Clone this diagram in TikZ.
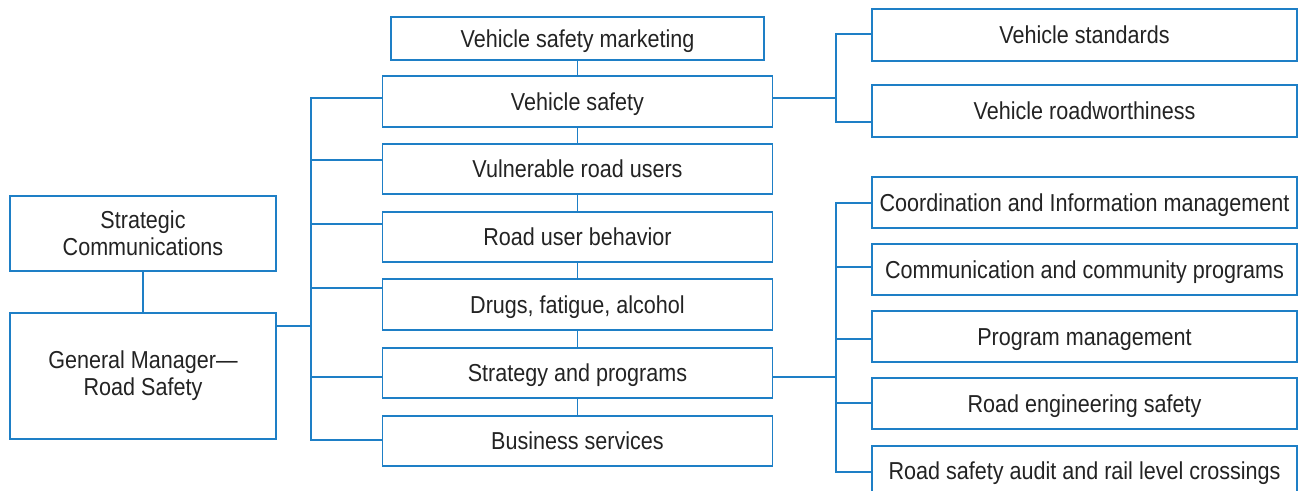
\documentclass[tikz,border=0pt]{standalone}
\usepackage{fontspec}
\setmainfont{Liberation Sans}[FakeStretch=0.88]
\usetikzlibrary{calc}
\definecolor{bl}{HTML}{1E7FC6}
\definecolor{tx}{HTML}{232323}
\tikzset{
  box/.style={draw=bl, line width=1.8pt, rectangle, inner sep=0pt, text=tx,
    font=\fontsize{24.5}{27}\selectfont, align=center},
  onebox/.style={box, text height=17.5pt, text depth=0pt},
  midbox/.style={onebox, minimum width=390pt, minimum height=50pt},
  rbox/.style={onebox, minimum width=425pt, minimum height=51pt},
  conn/.style={draw=bl, line width=1.8pt}
}
\begin{document}
\begin{tikzpicture}[x=1pt,y=-1pt]
\useasboundingbox (0,0) rectangle (1298,490);
\clip (0,0) rectangle (1298,490);
\fill[white] (0,0) rectangle (1298,490);

% left
\node[box, minimum width=266pt, minimum height=75pt] (sc) at (143,233.5) {Strategic\\Communications};
\node[box, minimum width=266pt, minimum height=126pt] (gm) at (143,376) {General Manager—\\Road Safety};

% middle
\node[onebox, minimum width=373pt, minimum height=43pt] (vsm) at (577.5,38.5) {Vehicle safety marketing};
\node[midbox, minimum height=51pt] (vs) at (577.5,101.5) {Vehicle safety};
\node[midbox] (vru) at (577.5,169) {Vulnerable road users};
\node[midbox] (rub) at (577.5,237) {Road user behavior};
\node[midbox, minimum height=51pt] (dfa) at (577.5,304.5) {Drugs, fatigue, alcohol};
\node[midbox] (sap) at (577.5,373) {Strategy and programs};
\node[midbox] (bs) at (577.5,441) {Business services};

% right
\node[rbox, minimum height=52pt] (vstd) at (1084.5,35) {Vehicle standards};
\node[rbox, minimum height=52pt] (vrw) at (1084.5,111) {Vehicle roadworthiness};
\node[rbox] (cim) at (1084.5,202.5) {Coordination and Information management};
\node[rbox] (ccp) at (1084.5,269.5) {Communication and community programs};
\node[rbox] (pm) at (1084.5,336.5) {Program management};
\node[rbox] (res) at (1084.5,403.5) {Road engineering safety};
\node[rbox, minimum height=50pt] (rsa) at (1084.5,471) {Road safety audit and rail level crossings};

% left connectors
\draw[conn] (sc.south) -- (gm.north);
\coordinate (jg) at (311,326);
\draw[conn] (gm.east |- jg) -- (jg);
\coordinate (t1) at (311,97.7);
\coordinate (t2) at (311,160);
\coordinate (t3) at (311,224);
\coordinate (t4) at (311,288);
\coordinate (t5) at (311,377);
\coordinate (t6) at (311,440);
\draw[conn] (t1 -| vs.west) -- (t1) -- (t6) -- (t6 -| bs.west);
\draw[conn] (t2) -- (t2 -| vru.west);
\draw[conn] (t3) -- (t3 -| rub.west);
\draw[conn] (t4) -- (t4 -| dfa.west);
\draw[conn] (t5) -- (t5 -| sap.west);

% middle chain
\draw[conn] (vsm.south) -- (vs.north);
\draw[conn] (vs.south) -- (vru.north);
\draw[conn] (vru.south) -- (rub.north);
\draw[conn] (rub.south) -- (dfa.north);
\draw[conn] (dfa.south) -- (sap.north);
\draw[conn] (sap.south) -- (bs.north);

% right top
\coordinate (r1) at (836,98);
\draw[conn] (vs.east |- r1) -- (r1);
\coordinate (r1a) at (836,34);
\coordinate (r1b) at (836,122);
\draw[conn] (r1a -| vstd.west) -- (r1a) -- (r1b) -- (r1b -| vrw.west);

% right bottom
\coordinate (r2) at (836,377);
\draw[conn] (sap.east |- r2) -- (r2);
\coordinate (b1) at (836,203);
\coordinate (b2) at (836,267);
\coordinate (b3) at (836,339);
\coordinate (b4) at (836,403);
\coordinate (b5) at (836,472);
\draw[conn] (b1 -| cim.west) -- (b1) -- (b5) -- (b5 -| rsa.west);
\draw[conn] (b2) -- (b2 -| ccp.west);
\draw[conn] (b3) -- (b3 -| pm.west);
\draw[conn] (b4) -- (b4 -| res.west);
\end{tikzpicture}
\end{document}
